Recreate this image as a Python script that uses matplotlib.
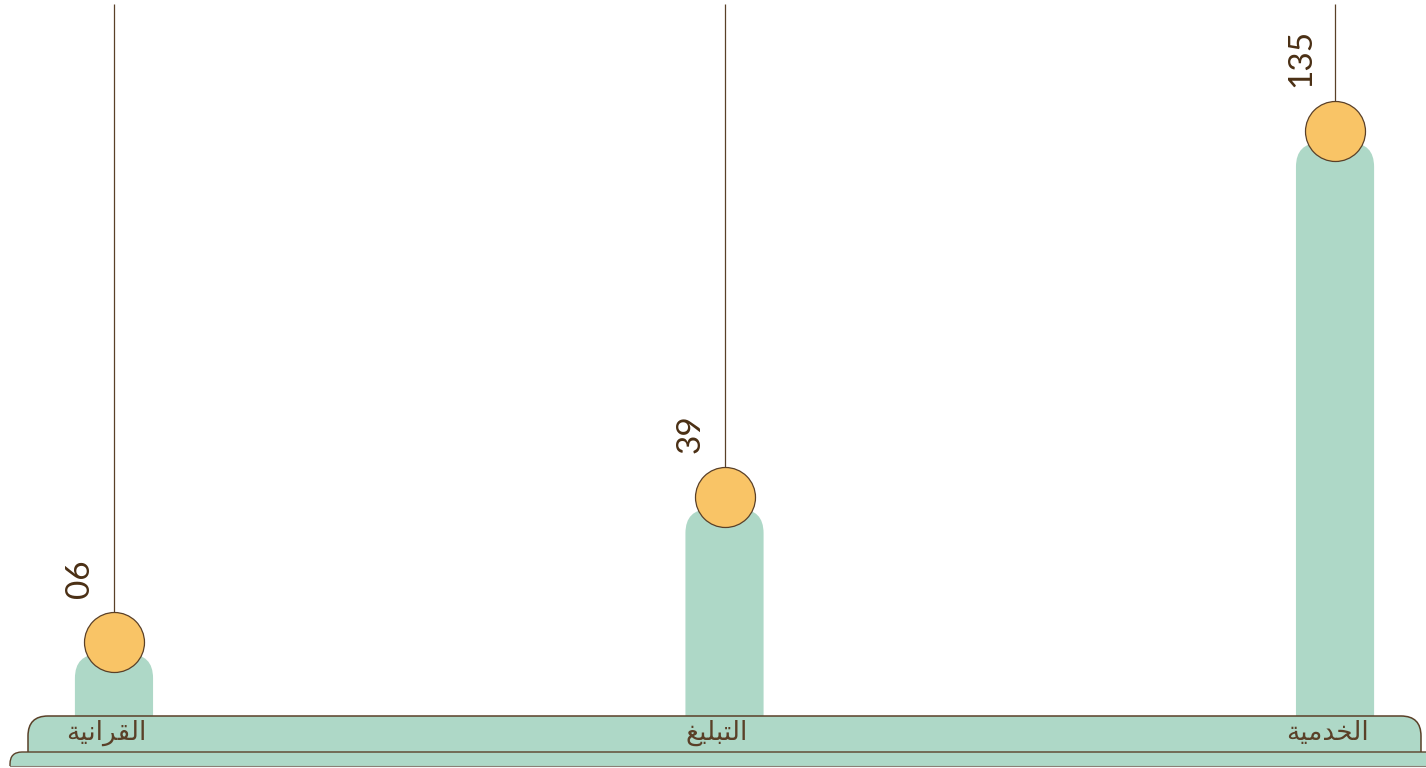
import numpy as np
import matplotlib
matplotlib.use('Agg')
import matplotlib.pyplot as plt
from matplotlib.patches import FancyBboxPatch, Rectangle
from matplotlib.transforms import IdentityTransform
from matplotlib.lines import Line2D

# ---- data ----
categories = ['القرانية', 'التبليغ', 'الخدمية']
# same words written in Arabic presentation forms, visual order (matplotlib has no shaping)
categories_shaped = [
    '\uFE94\uFEF4\uFEE7\uFE8D\uFEAE\uFED8\uFEDF\uFE8D',
    '\uFECE\uFEF4\uFEE0\uFE92\uFE98\uFEDF\uFE8D',
    '\uFE94\uFEF4\uFEE3\uFEAA\uFEA8\uFEDF\uFE8D',
]
values = [6, 39, 135]
value_labels = ['06', '39', '135']

# ---- style ----
GREEN = '#AED8C7'
ORANGE = '#F9C466'
BROWN = '#5A4028'
TEXT = '#4A2F14'

W, H, DPI = 1426, 768, 100
fig = plt.figure(figsize=(W / DPI, H / DPI), dpi=DPI)
ax = fig.add_axes([0, 0, 1, 1])
ax.set_axis_off()

p = 0.9
fwd = lambda v: np.sign(v) * np.abs(v) ** p
inv = lambda y: np.sign(y) * np.abs(y) ** (1 / p)
ax.set_yscale('function', functions=(fwd, inv))
ax.set_xlim(-0.1867, 2.149)
ax.set_ylim(-18.9, 171.5)

x = np.arange(len(values))
bw = 0.128
ident = IdentityTransform()

# bars with rounded tops (computed through the data transform)
ybot = ax.get_ylim()[0]
for xi, v in zip(x, values):
    x0, y0 = ax.transData.transform((xi - bw / 2, ybot))
    x1, y1 = ax.transData.transform((xi + bw / 2, v))
    top = y1 - 12
    bar = FancyBboxPatch((x0, y0 - 30), x1 - x0, top - (y0 - 30),
                         boxstyle='round,pad=0,rounding_size=24',
                         transform=ident, fc=GREEN, ec='none', zorder=1)
    ax.add_artist(bar)

# hanging lines (stop a few pixels below the top edge)
_, ytop_px = ax.transData.transform((0, ax.get_ylim()[1]))
y_line_top = ax.transData.inverted().transform((0, ytop_px - 4))[1]
ax.vlines(x, values, y_line_top, color=BROWN, lw=0.9, zorder=3)

# circles
ax.scatter(x, values, s=(60 * 72 / DPI) ** 2, c=ORANGE, edgecolors=BROWN,
           linewidths=0.9, zorder=4)

# value labels
for xi, v, lbl in zip(x, values, value_labels):
    ax.annotate(lbl, (xi, v), xytext=(-34 * 0.72, 44 * 0.72),
                textcoords='offset points', rotation=90, ha='center',
                va='bottom', fontsize=24, color=TEXT, family='Lato', zorder=5)

# base platform
plat = FancyBboxPatch((28, -20), 1421 - 28, 52 + 20,
                      boxstyle='round,pad=0,rounding_size=20',
                      transform=ident, fc=GREEN, ec=BROWN, lw=1.1, zorder=6)
ax.add_artist(plat)
strip = FancyBboxPatch((10, -30), 1500, 16 + 30,
                       boxstyle='round,pad=0,rounding_size=12',
                       transform=ident, fc=GREEN, ec=BROWN, lw=1.0, zorder=7)
ax.add_artist(strip)
ax.add_artist(Rectangle((0, -5), W, 7.5, transform=ident, fc='white',
                        ec='none', zorder=8))
ax.add_artist(Line2D([10, W], [2.5, 2.5], transform=ident, color='#8a7f74',
                     lw=0.8, zorder=9))

# category labels
for xi, lbl in zip(x, categories_shaped):
    ax.annotate(lbl, (xi, 35), xycoords=('data', 'figure pixels'),
                xytext=(-8 * 0.72, 0), textcoords='offset points',
                ha='center', va='center', fontsize=19, color='#5A4028',
                family=['DejaVu Sans'], fontweight='normal', zorder=10)

fig.savefig('out.png', dpi=DPI)
